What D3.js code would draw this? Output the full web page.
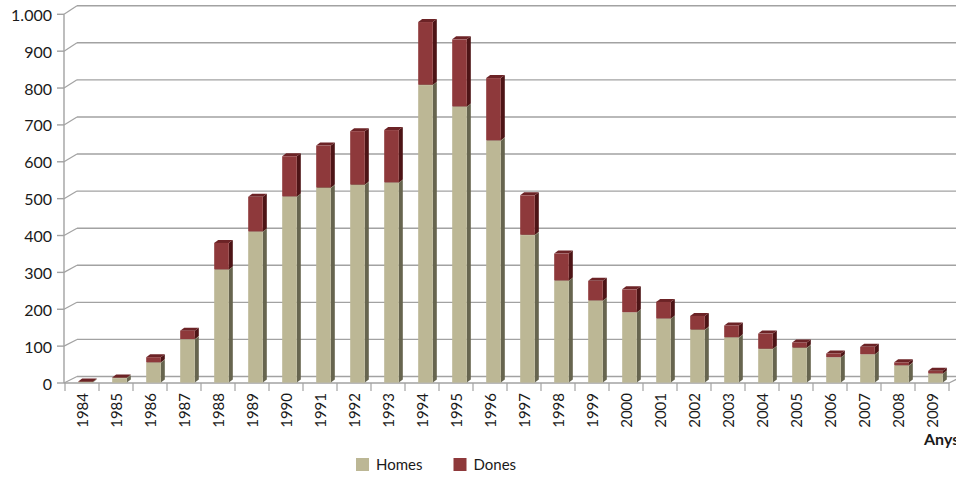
<!DOCTYPE html>
<html>
<head>
<meta charset="utf-8">
<script src="https://cdn.jsdelivr.net/npm/d3@7"></script>
<style>
  html, body { margin: 0; padding: 0; background: #fff; }
  svg { display: block; font-family: Lato, "Open Sans", sans-serif; }
</style>
</head>
<body>
<svg id="chart" width="956" height="477"></svg>
<script>
// Yearly counts, split by sex
const years = ["1984","1985","1986","1987","1988","1989","1990","1991","1992","1993","1994","1995","1996","1997","1998","1999","2000","2001","2002","2003","2004","2005","2006","2007","2008","2009"];
const homes = [2, 13, 55, 118, 307, 410, 505, 529, 537, 543, 808, 749, 657, 401, 277, 223, 191, 174, 144, 123, 92, 95, 69, 77, 47, 25];
const dones = [2, 2, 15, 24, 73, 95, 110, 115, 146, 143, 171, 183, 170, 108, 74, 54, 63, 46, 38, 33, 42, 15, 11, 21, 9, 8];
const yTicks = [0, 100, 200, 300, 400, 500, 600, 700, 800, 900, 1000];
const seriesNames = ["Homes", "Dones"];

const svg = d3.select("#chart");

// Front plane and back wall of the 3D box
const y = d3.scaleLinear().domain([0, 1000]).range([383, 14.3]);
const yBack = d3.scaleLinear().domain([0, 1000]).range([376.5, 5.7]);
const x = d3.scaleBand().domain(years).range([65, 949]).padding(0);
const depthX = 13;          // wall depth offset
const barW = x.bandwidth() * 0.43;
const barShift = 3.5;       // bar centre sits slightly right of the band centre
const bdx = 4, bdy = -3;    // bar depth offset

const fmt = d3.formatLocale({ decimal: ",", thousands: ".", grouping: [3], currency: ["", "€"] }).format(",");

const gridColor = "#a2a2a2";

// Back-wall gridlines and left-wall diagonals
const grid = svg.append("g");
yTicks.forEach(t => {
  grid.append("line")
    .attr("x1", 64 + depthX).attr("x2", 970)
    .attr("y1", yBack(t)).attr("y2", yBack(t))
    .attr("stroke", gridColor).attr("stroke-width", 1.4);
  grid.append("line")
    .attr("x1", 64).attr("y1", y(t))
    .attr("x2", 64 + depthX).attr("y2", yBack(t))
    .attr("stroke", gridColor).attr("stroke-width", 1.2);
});

// Floor front edge and its right-hand depth edge
grid.append("line").attr("x1", 64).attr("x2", x.range()[1])
  .attr("y1", y(0)).attr("y2", y(0)).attr("stroke", gridColor).attr("stroke-width", 1.4);
grid.append("line").attr("x1", x.range()[1]).attr("y1", y(0))
  .attr("x2", x.range()[1] + depthX).attr("y2", yBack(0)).attr("stroke", gridColor).attr("stroke-width", 1.2);

// Value axis
const yAxis = svg.append("g");
yAxis.append("line").attr("x1", 64).attr("x2", 64)
  .attr("y1", y(1000)).attr("y2", y(0)).attr("stroke", gridColor).attr("stroke-width", 1.4);
yTicks.forEach(t => {
  yAxis.append("line").attr("x1", 57).attr("x2", 64)
    .attr("y1", y(t)).attr("y2", y(t)).attr("stroke", gridColor).attr("stroke-width", 1.4);
  yAxis.append("text")
    .attr("x", 52).attr("y", y(t))
    .attr("text-anchor", "end").attr("dominant-baseline", "central")
    .attr("font-size", 16).attr("fill", "#1a1a1a")
    .text(fmt(t));
});

// Category axis ticks and labels
const xAxis = svg.append("g");
const edges = years.map(d => x(d)).concat([x.range()[1]]);
edges.forEach(e => {
  xAxis.append("line").attr("x1", e).attr("x2", e)
    .attr("y1", y(0)).attr("y2", y(0) + 8).attr("stroke", gridColor).attr("stroke-width", 1.2);
});
years.forEach(d => {
  const cx = x(d) + x.bandwidth() / 2;
  xAxis.append("text")
    .attr("transform", `translate(${cx},${y(0) + 10}) rotate(-90)`)
    .attr("text-anchor", "end").attr("dominant-baseline", "central")
    .attr("font-size", 15).attr("fill", "#1a1a1a")
    .text(d);
});
svg.append("text").attr("x", 924).attr("y", 445)
  .attr("font-size", 16).attr("font-weight", "bold").attr("fill", "#1a1a1a")
  .text("Anys");

// Stacked 3D columns
const stack = d3.stack().keys(seriesNames)(years.map((d, i) => ({ year: d, Homes: homes[i], Dones: dones[i] })));
const palette = {
  Homes: { front: "#bcb795", side: "#67654f", top: "#8f8b70" },
  Dones: { front: "#8e393b", side: "#4d1416", top: "#6c2326" }
};

const bars = svg.append("g");
stack.forEach(layer => {
  const c = palette[layer.key];
  layer.forEach(seg => {
    const d = seg.data.year;
    const x0 = x(d) + x.bandwidth() / 2 + barShift - barW / 2;
    const x1 = x0 + barW;
    const yt = y(seg[1]);
    const yb = y(seg[0]) - 0.4;
    // side face
    bars.append("path")
      .attr("d", `M${x1},${yb} L${x1 + bdx},${yb + bdy} L${x1 + bdx},${yt + bdy} L${x1},${yt} Z`)
      .attr("fill", c.side);
    // top face
    bars.append("path")
      .attr("d", `M${x0},${yt} L${x0 + bdx},${yt + bdy} L${x1 + bdx},${yt + bdy} L${x1},${yt} Z`)
      .attr("fill", c.top);
    // front face
    bars.append("rect")
      .attr("x", x0).attr("y", yt)
      .attr("width", barW).attr("height", Math.max(0, yb - yt))
      .attr("fill", c.front);
  });
});

// Legend
const legend = svg.append("g");
const legendPos = [356, 453.5];
seriesNames.forEach((name, i) => {
  legend.append("rect").attr("x", legendPos[i]).attr("y", 458)
    .attr("width", 13).attr("height", 13).attr("fill", palette[name].front);
  legend.append("text").attr("x", legendPos[i] + 20).attr("y", 469.5)
    .attr("font-size", 15).attr("fill", "#1a1a1a").text(name);
});
</script>
</body>
</html>
